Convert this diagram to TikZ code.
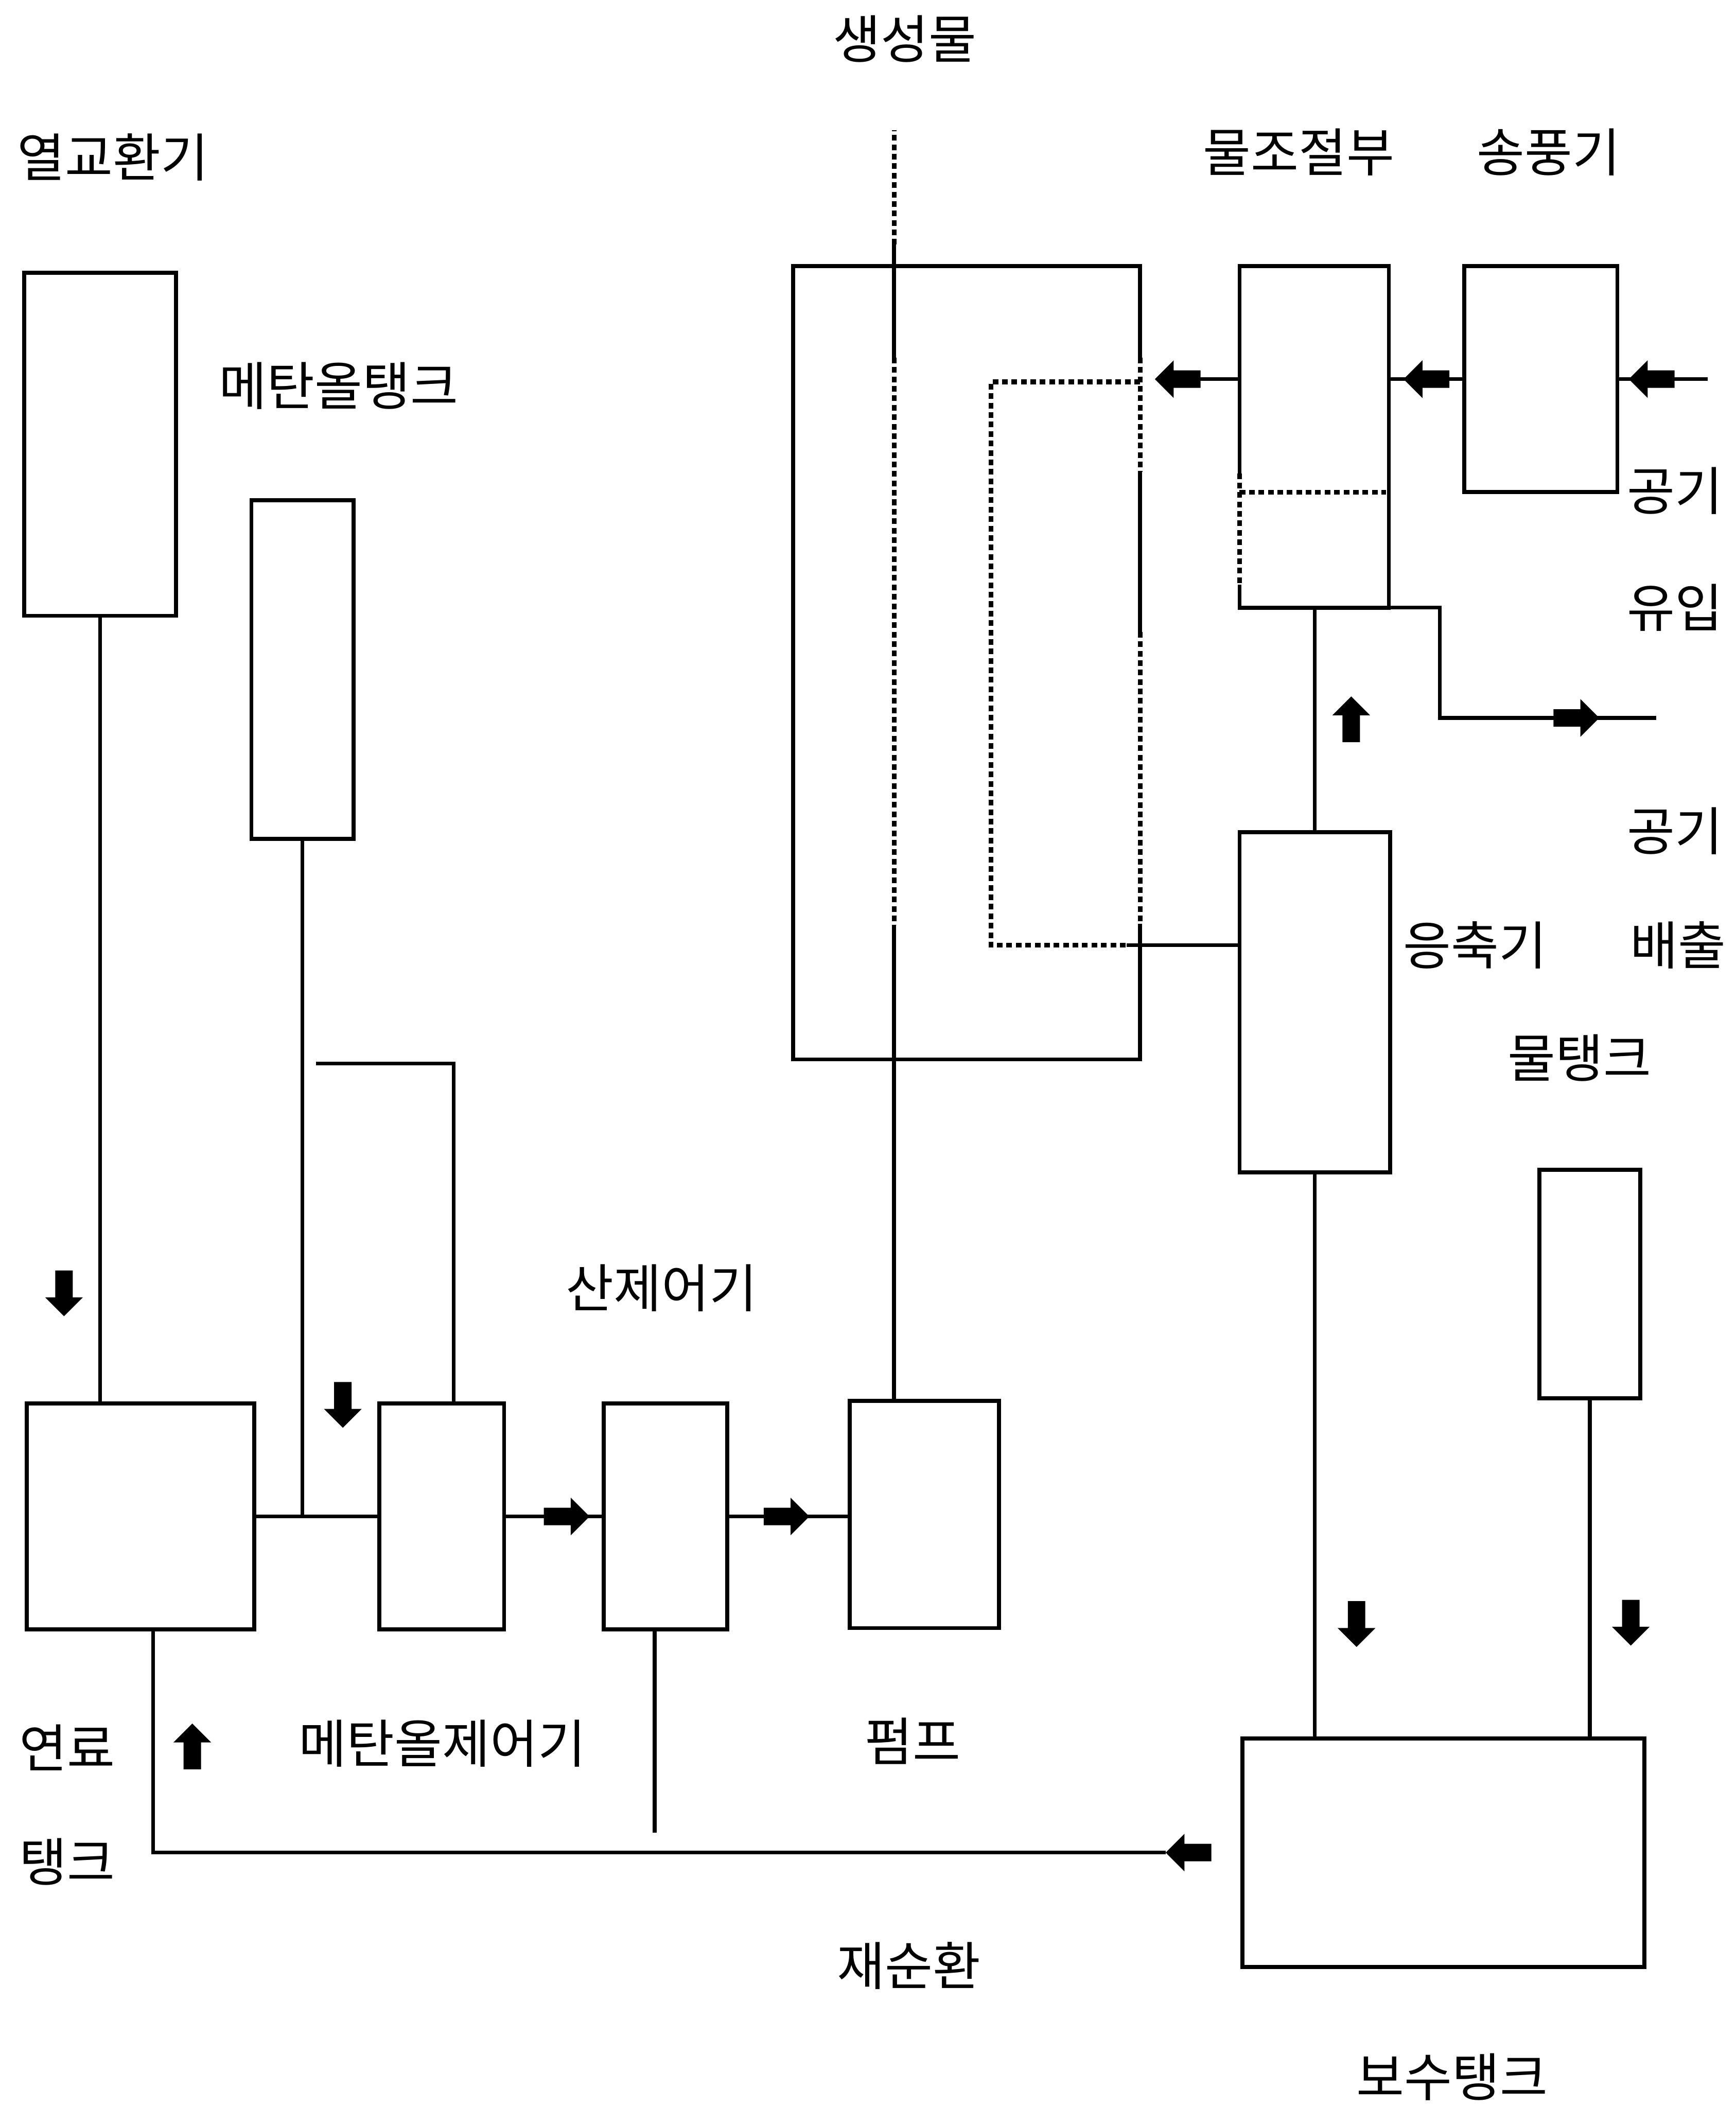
\documentclass[tikz,border=0pt]{standalone}
\usepackage{fontspec}
\setmainfont{Noto Sans CJK KR}
\usetikzlibrary{fit}
\begin{document}
\begin{tikzpicture}[x=0.01cm,y=-0.01cm]
\tikzset{
  ln/.style={line width=0.8pt},
  box/.style={draw, line width=0.85pt, inner sep=0pt, outer sep=0pt},
  dotln/.style={draw=black, line width=1pt, dash pattern=on 1.2pt off 0.8pt},
  gapln/.style={draw=white, line width=2pt},
  lbl/.style={font=\fontsize{11pt}{13pt}\selectfont, inner sep=0pt},
  blk/.pic={\fill (-17,-6.5) -- (3,-6.5) -- (3,-14) -- (17,0) -- (3,14) -- (3,6.5) -- (-17,6.5) -- cycle;}
}
\useasboundingbox (0,0) rectangle (1291,1568);

% boxes
\node[box, fit={(18,203) (131,458)}] (hx) {};
\node[box, fit={(187,372) (263,624)}] (mt) {};
\node[box, fit={(20,1044) (189,1212)}] (ft) {};
\node[box, fit={(282,1044) (375,1212)}] (mc) {};
\node[box, fit={(449,1044) (541,1212)}] (ac) {};
\node[box, fit={(632,1042) (743,1211)}] (pump) {};
\node[box, fit={(590,198) (848,788)}] (stack) {};
\node[box, fit={(922,198) (1033,452)}] (wc) {};
\node[box, fit={(1089,198) (1203,366)}] (bl) {};
\node[box, fit={(922,619) (1034,872)}] (cd) {};
\node[box, fit={(1145,870) (1220,1040)}] (wt) {};
\node[box, fit={(924,1293) (1223,1463)}] (rt) {};

% dotted parts of box outlines
\path[gapln] (848,266) -- (848,351);
\path[dotln] (848,266) -- (848,351);
\path[gapln] (848,470) -- (848,687);
\path[dotln] (848,470) -- (848,687);
\path[gapln] (922,352) -- (922,435);
\path[dotln] (922,352) -- (922,435);
\path[dotln] (922,366) -- (1031,366);

% inner dotted loop in the stack
\coordinate (inTR) at (848,284);
\coordinate (inBR) at (838,703);
\path[dotln] (inTR) -| (737,703) -- (inBR);
\draw[ln] (inBR) -- (inBR -| cd.west);

% product line through the stack
\coordinate (p1) at (665,688);
\coordinate (p2) at (665,266);
\coordinate (p3) at (665,182);
\coordinate (prodTop) at (665,97);
\draw[ln] (pump.north -| p1) -- (p1);
\path[dotln] (p2) -- (p1);
\draw[ln] (p2) -- (p3);
\path[dotln] (p3) -- (prodTop);

% left part connectors
\draw[ln] (hx.south) -- (hx.south |- ft.north);
\draw[ln] (mt.south) -- (mt.south |- ft.east);
\draw[ln] (ft.east) -- (mc.west);
\coordinate (mcN) at ([xshift=0.09cm]mc.north);
\coordinate (mlo) at (235,791);
\draw[ln] (mcN) |- (mlo);
\coordinate (ftS) at ([xshift=0.095cm]ft.south);
\coordinate (rcTip) at (867,1378);
\draw[ln] (ftS) |- (rcTip);
\draw[ln] (mc.east) -- (ac.west);
\draw[ln] (ac.east) -- (ac.east -| pump.west);
\coordinate (acS) at ([xshift=-0.08cm]ac.south);
\coordinate (acEnd) at (487,1363);
\draw[ln] (acS) -- (acS |- acEnd);

% right part connectors
\draw[ln] (wc.west |- bl.west) -- (876,282);
\draw[ln] (bl.west) -- (wc.east |- bl.west);
\coordinate (airIn) at (1270,282);
\draw[ln] (airIn) -- (bl.east);
\draw[ln] (wc.south -| cd.north) -- (cd.north);
\coordinate (exEnd) at (1232,534);
\draw[ln] (wc.south east) -- ++(38,0) |- (exEnd);
\draw[ln] (cd.south) -- (cd.south |- rt.north);
\draw[ln] (wt.south) -- (wt.south |- rt.north);

% block arrows
\pic[rotate=-90] at (47.6,962) {blk};
\pic[rotate=-90] at (255,1045) {blk};
\pic[rotate=90] at (143,1299) {blk};
\pic at (421.5,1128) {blk};
\pic at (585,1128) {blk};
\pic[rotate=180] at (884,1378) {blk};
\pic[rotate=-90] at (1009,1208) {blk};
\pic[rotate=-90] at (1213,1207) {blk};
\pic[rotate=90] at (1005,535) {blk};
\pic at (1172.5,534) {blk};
\pic[rotate=180] at (876,282) {blk};
\pic[rotate=180] at (1061,282) {blk};
\pic[rotate=180] at (1228.5,282) {blk};

% labels
\node[lbl] (tProd) at (673,29) {생성물};
\node[lbl] (tHx) at (84,117) {열교환기};
\node[lbl] (tWc) at (966,113) {물조절부};
\node[lbl] (tBl) at (1152,113) {송풍기};
\node[lbl] (tMt) at (252,287) {메탄올탱크};
\node[lbl] (tAir1) at (1246,365) {공기};
\node[lbl] (tIn) at (1246,452) {유입};
\node[lbl] (tAir2) at (1246,618) {공기};
\node[lbl] (tCd) at (1097,703) {응축기};
\node[lbl] (tOut) at (1248,703) {배출};
\node[lbl] (tWt) at (1175,787) {물탱크};
\node[lbl] (tAc) at (492,958) {산제어기};
\node[lbl] (tFt1) at (50,1300) {연료};
\node[lbl] (tMc) at (329,1297) {메탄올제어기};
\node[lbl] (tPump) at (679,1295) {펌프};
\node[lbl] (tFt2) at (50,1385) {탱크};
\node[lbl] (tRc) at (676,1462) {재순환};
\node[lbl] (tRt) at (1080,1545) {보수탱크};
\end{tikzpicture}
\end{document}
